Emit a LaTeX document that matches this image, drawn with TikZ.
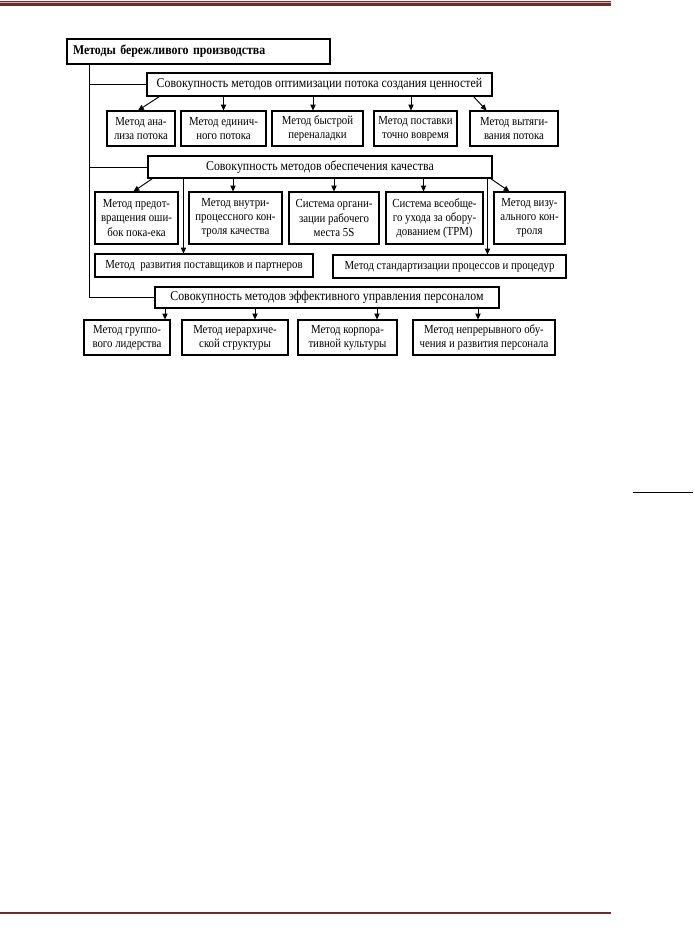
\documentclass[tikz,border=0pt]{standalone}
\usepackage{fontspec}
\setmainfont{Liberation Serif}[FakeStretch=0.88]
\usetikzlibrary{calc, arrows.meta}
\definecolor{pagered}{RGB}{112,44,44}

\begin{document}
\begin{tikzpicture}[
    x=0.03cm, y=-0.03cm,
    frame/.style={draw, line width=0.9pt, inner sep=0pt, align=center},
    dims/.style 2 args={minimum width=#1*0.03cm, minimum height=#2*0.03cm},
    group/.style={frame, font=\fontsize{11.5}{13}\selectfont},
    leaf/.style={frame, font=\fontsize{10.5}{12}\selectfont},
    link/.style={line width=0.8pt},
    arr/.style={link, -{Triangle[length=5pt, width=4.5pt]}}
  ]

  \useasboundingbox (0,0) rectangle (693,929);

  % page rules
  \fill[pagered] (0,1) rectangle (611,6);
  \draw[pagered!35, line width=0.4pt] (0,2.6) -- (611,2.6);
  \draw[pagered, line width=1.2pt] (0,913) -- (611,913);
  \draw[line width=0.8pt] (633,492) -- (693,492);

  % title
  \node[frame, dims={263}{25}, text width=251*0.03cm, align=left,
        font=\bfseries\fontsize{11.5}{13}\selectfont] (lean) at (198.5,51.5)
        {Методы бережливого производства};
  \coordinate (trunk) at ($(lean.south west)+(23,0)$);

  % value stream
  \node[group, dims={345}{23}] (flow) at (319.5,84.5)
        {Совокупность методов оптимизации потока создания ценностей};
  \node[leaf, dims={68}{35}] (f1) at (141,128.5) {Метод ана-\\лиза потока};
  \node[leaf, dims={85}{35}] (f2) at (223.5,128.5) {Метод единич-\\ного потока};
  \node[leaf, dims={91}{35}] (f3) at (317.5,128.5) {Метод быстрой\\переналадки};
  \node[leaf, dims={83}{35}] (f4) at (415.5,128.5) {Метод поставки\\точно вовремя};
  \node[leaf, dims={88}{35}] (f5) at (514,128.5) {Метод вытяги-\\вания потока};

  % quality
  \node[group, dims={344}{22}] (qual) at (320,167)
        {Совокупность методов обеспечения качества};
  \node[leaf, dims={83}{52}] (q1) at (136.5,218) {Метод предот-\\вращения оши-\\бок пока-ека};
  \node[leaf, dims={93}{52}] (q2) at (235.5,218) {Метод внутри-\\процессного кон-\\троля качества};
  \node[leaf, dims={90}{52}] (q3) at (334,218) {Система органи-\\зации рабочего\\места 5S};
  \node[leaf, dims={97}{52}] (q4) at (434.5,218) {Система всеобще-\\го ухода за обору-\\дованием (TPM)};
  \node[leaf, dims={71}{52}] (q5) at (529.5,218) {Метод визу-\\ального кон-\\троля};
  \node[leaf, dims={218}{23}] (supp) at (204,265.5) {Метод~ развития поставщиков и партнеров};
  \node[leaf, dims={233}{23}] (stand) at (449.5,266.5) {Метод стандартизации процессов и процедур};

  % staff
  \node[group, dims={344}{21}] (staff) at (327,297.5)
        {Совокупность методов эффективного управления персоналом};
  \node[leaf, dims={86}{35}] (s1) at (127,337.5) {Метод группо-\\вого лидерства};
  \node[leaf, dims={106}{35}] (s2) at (235,337.5) {Метод иерархиче-\\ской структуры};
  \node[leaf, dims={99}{35}] (s3) at (347.5,337.5) {Метод корпора-\\тивной культуры};
  \node[leaf, dims={142}{35}] (s4) at (484,337.5) {Метод непрерывного обу-\\чения и развития персонала};

  % trunk
  \draw[link] (trunk) |- (staff.west);
  \draw[link] (flow.west -| trunk) -- (flow.west);
  \draw[link] (qual.west -| trunk) -- (qual.west);

  % arrows
  \draw[arr] ($(flow.south west)+(13,0)$) -- ($(f1.north)+(-3,0)$);
  \draw[arr] (flow.south -| f2.north) -- (f2.north);
  \draw[arr] ($(flow.south -| f3.north)+(-4.5,0)$) -- ($(f3.north)+(-4.5,0)$);
  \draw[arr] ($(flow.south -| f4.north)+(-4.5,0)$) -- ($(f4.north)+(-4.5,0)$);
  \draw[arr] ($(flow.south east)+(-19,0)$) -- ($(f5.north west)+(17,0)$);

  \draw[arr] ($(qual.south west)+(5,0)$) -- ($(q1.north)+(-3,0)$);
  \draw[arr] ($(qual.south -| q2.north)+(-2.5,0)$) -- ($(q2.north)+(-2.5,0)$);
  \draw[arr] (qual.south -| q3.north) -- (q3.north);
  \draw[arr] ($(qual.south -| q4.north)+(-11,0)$) -- ($(q4.north)+(-11,0)$);
  \draw[arr] ($(qual.south east)+(-2,0)$) -- ($(q5.north west)+(16,0)$);
  \draw[arr] ($(qual.south -| supp.north west)+(89,0)$) -- ($(supp.north west)+(89,0)$);
  \draw[arr] ($(qual.south -| stand.north west)+(155,0)$) -- ($(stand.north west)+(155,0)$);

  \draw[arr] ($(staff.south -| s1.north)+(38,0)$) -- ($(s1.north)+(38,0)$);
  \draw[arr] ($(staff.south -| s2.north)+(20,0)$) -- ($(s2.north)+(20,0)$);
  \draw[arr] ($(staff.south -| s3.north)+(29.5,0)$) -- ($(s3.north)+(29.5,0)$);
  \draw[arr] ($(staff.south -| s4.north)+(-6,0)$) -- ($(s4.north)+(-6,0)$);

\end{tikzpicture}
\end{document}
